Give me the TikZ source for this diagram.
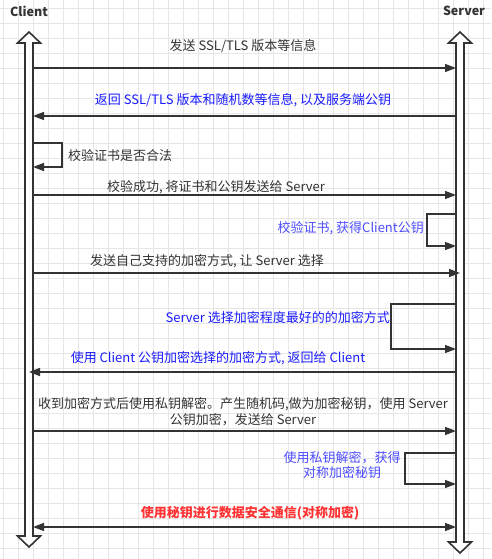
\documentclass[tikz,border=0pt]{standalone}
\usepackage{fontspec}
\setmainfont{Noto Sans CJK SC}
\usetikzlibrary{arrows.meta}
\definecolor{ink}{HTML}{333333}
\definecolor{gridc}{HTML}{E6E6E6}
\definecolor{msgblue}{HTML}{1A1AFF}
\definecolor{noteblue}{HTML}{4D4DFF}
\definecolor{alertred}{HTML}{FF3333}
% hollow double-headed block arrow used as a lifeline: #1 centre x, #2 top y, #3 bottom y
\newcommand\lifelinearrow[3]{%
  \draw[lifeline] (#1,#2) -- (#1+11.5,#2+11) -- (#1+4,#2+11) -- (#1+4,#3-11)
    -- (#1+11.5,#3-11) -- (#1,#3) -- (#1-11.5,#3-11) -- (#1-4,#3-11)
    -- (#1-4,#2+11) -- (#1-11.5,#2+11) -- cycle;}
\begin{document}
\begin{tikzpicture}[x=1pt,y=-1pt,
  lbl/.style={font=\fontsize{13}{16}\selectfont, text=ink, inner sep=0pt},
  head/.style={font=\fontsize{12.5}{15}\selectfont\bfseries, text=ink, inner sep=0pt},
  lifeline/.style={draw=ink, fill=white, line width=1.6pt, line join=miter},
  msg/.style={draw=ink, line width=1.4pt, -{Triangle[length=11pt,width=8pt]}},
  both/.style={draw=ink, line width=1.4pt, {Triangle[length=11pt,width=8pt]}-{Triangle[length=11pt,width=8pt]}},
  loop/.style={draw=ink, line width=1.4pt, rounded corners=0pt, -{Triangle[length=11pt,width=8pt]}}
]
\useasboundingbox (0,0) rectangle (491,559);
\fill[white] (0,0) rectangle (491,559);
% background grid
\foreach \gx in {3,18,...,491} \draw[gridc, line width=0.8pt] (\gx,0) -- (\gx,559);
\foreach \gy in {8,23,...,559} \draw[gridc, line width=0.8pt] (0,\gy) -- (491,\gy);

% participants
\node[head] (client) at (29,11) {Client};
\node[head] (server) at (464,11) {Server};
\lifelinearrow{29}{32}{547}
\lifelinearrow{460}{32}{553}

% message end points on the two lifelines
\coordinate (c1) at (33,68);   \coordinate (s1) at (456,68);
\coordinate (c2) at (33,116);  \coordinate (s2) at (456,116);
\coordinate (c3a) at (33,143); \coordinate (c3b) at (62,143);
\coordinate (c3c) at (62,167); \coordinate (c3d) at (33,167);
\coordinate (c4) at (33,195);  \coordinate (s4) at (456,195);
\coordinate (s5a) at (456,214); \coordinate (s5b) at (427,214);
\coordinate (s5c) at (427,246); \coordinate (s5d) at (456,246);
\coordinate (c6) at (33,273);  \coordinate (s6) at (460,273);
\coordinate (s7a) at (456,304); \coordinate (s7b) at (391,304);
\coordinate (s7c) at (391,349); \coordinate (s7d) at (456,349);
\coordinate (c8) at (29,372);  \coordinate (s8) at (456,372);
\coordinate (c9) at (33,431);  \coordinate (s9) at (456,431);
\coordinate (s10a) at (456,453); \coordinate (s10b) at (405,453);
\coordinate (s10c) at (405,484); \coordinate (s10d) at (456,484);
\coordinate (c11) at (33,527); \coordinate (s11) at (456,527);

% messages
\draw[msg] (c1) -- (s1);
\node[lbl] (m1) at (243,46) {发送 SSL/TLS 版本等信息};

\draw[msg] (s2) -- (c2);
\node[lbl, text=msgblue] (m2) at (243,100) {返回 SSL/TLS 版本和随机数等信息, 以及服务端公钥};

\draw[loop] (c3a) -- (c3b) -- (c3c) -- (c3d);
\node[lbl, anchor=west] (m3) at (68,156) {校验证书是否合法};

\draw[msg] (c4) -- (s4);
\node[lbl] (m4) at (216,187) {校验成功, 将证书和公钥发送给 Server};

\draw[loop] (s5a) -- (s5b) -- (s5c) -- (s5d);
\node[lbl, anchor=east, text=noteblue] (m5) at (424,228) {校验证书, 获得Client公钥};

\draw[msg] (c6) -- (s6);
\node[lbl] (m6) at (207,261) {发送自己支持的加密方式, 让 Server 选择};

\draw[loop] (s7a) -- (s7b) -- (s7c) -- (s7d);
\node[lbl, anchor=east, text=msgblue] (m7) at (390,318) {Server 选择加密程度最好的的加密方式};

\draw[msg] (s8) -- (c8);
\node[lbl, text=msgblue] (m8) at (218,358) {使用 Client 公钥加密选择的加密方式, 返回给 Client};

\draw[msg] (c9) -- (s9);
\node[lbl, align=center] (m9) at (243,412) {收到加密方式后使用私钥解密。产生随机码,做为加密秘钥，使用 Server\\公钥加密，发送给 Server};

\draw[loop] (s10a) -- (s10b) -- (s10c) -- (s10d);
\node[lbl, align=center, text=noteblue, font=\fontsize{13}{15}\selectfont] (m10) at (342,465.5) {使用私钥解密，获得\\对称加密秘钥};

\draw[both] (c11) -- (s11);
\node[lbl, text=alertred, font=\fontsize{13}{16}\selectfont\bfseries] (m11) at (250,513) {使用秘钥进行数据安全通信(对称加密)};
\end{tikzpicture}
\end{document}
